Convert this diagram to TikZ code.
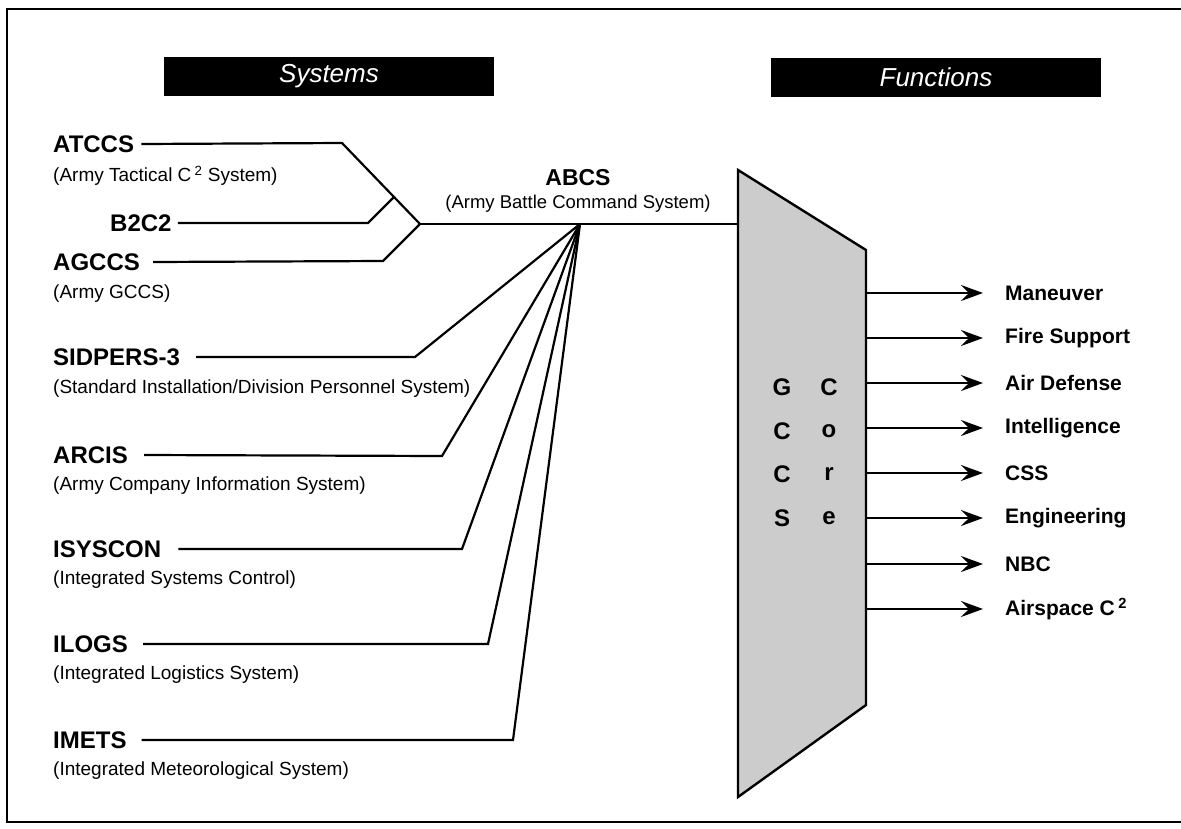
\documentclass[tikz,border=0pt]{standalone}
\usepackage{fontspec}
\setmainfont{Liberation Sans}
\usetikzlibrary{arrows.meta}
\tikzset{
  sys/.style={anchor=west,inner sep=0pt,font=\fontsize{24}{26}\selectfont\bfseries},
  sub/.style={anchor=west,inner sep=0pt,font=\fontsize{19}{21}\selectfont},
  fn/.style={anchor=west,inner sep=0pt,font=\fontsize{21}{23}\selectfont\bfseries},
  core/.style={inner sep=0pt,font=\fontsize{24}{26}\selectfont\bfseries},
  ln/.style={line width=2.2pt,line join=miter},
  hdr/.style={fill=black,text=white,font=\fontsize{26}{28}\selectfont\itshape,
    minimum width=330pt,minimum height=39pt,inner sep=0pt},
  arr/.style={line width=2pt,-{Stealth[length=22pt,width=16pt,inset=8pt]}}
}
\begin{document}
\begin{tikzpicture}[x=1pt,y=-1pt]
\useasboundingbox (0,0) rectangle (1181,828);
% frame
\draw[line width=2.4pt] (1185,9) -- (7,9) -- (7,822) -- (1185,822);
% headers
\node[hdr] (hsys) at (329,76) {Systems};
\node[hdr] (hfun) at (936,77) {Functions};
% system labels
\node[sys] (atccs) at (53,144) {ATCCS};
\node[sub] (atccsS) at (53,176) {(Army Tactical C\,\textsuperscript{2} System)};
\node[sys] (b2c2) at (110,223) {B2C2};
\node[sys] (agccs) at (53,262) {AGCCS};
\node[sub] (agccsS) at (53,294) {(Army GCCS)};
\node[sys] (sid) at (53,357) {SIDPERS-3};
\node[sub] (sidS) at (53,389) {(Standard Installation/Division Personnel System)};
\node[sys] (arcis) at (53,455) {ARCIS};
\node[sub] (arcisS) at (53,486) {(Army Company Information System)};
\node[sys] (isys) at (53,549) {ISYSCON};
\node[sub] (isysS) at (53,580) {(Integrated Systems Control)};
\node[sys] (ilogs) at (53,644) {ILOGS};
\node[sub] (ilogsS) at (53,675) {(Integrated Logistics System)};
\node[sys] (imets) at (53,740) {IMETS};
\node[sub] (imetsS) at (53,771) {(Integrated Meteorological System)};
% ABCS label
\node[inner sep=0pt,font=\fontsize{23}{24}\selectfont\bfseries] (abcs) at (578,178) {ABCS};
\node[inner sep=0pt,font=\fontsize{18.5}{20}\selectfont] (abcsS) at (578,204) {(Army Battle Command System)};
% key points
\coordinate (bAT) at (342,143);
\coordinate (J) at (420,224);
\coordinate (bB2) at (368,223);
\coordinate (mB2) at (394,197);
\coordinate (bAG) at (383,261);
\coordinate (F) at (580,224);
\coordinate (bSI) at (415,357);
\coordinate (bAR) at (442,456);
\coordinate (bIS) at (462,549);
\coordinate (bIL) at (488,644);
\coordinate (bIM) at (513,740);
% trapezoid
\coordinate (T1) at (738,170);
\coordinate (T2) at (866,250);
\coordinate (T3) at (866,705);
\coordinate (T4) at (738,797);
\coordinate (cin) at (738,224);
\filldraw[fill=black!20,line width=2.4pt,line join=miter] (T1) -- (T2) -- (T3) -- (T4) -- cycle;
% connectors
\draw[ln] ([xshift=7pt]atccs.east) -- (bAT) -- (J);
\draw[ln] ([xshift=6pt]b2c2.east) -- (bB2) -- (mB2);
\draw[ln] ([xshift=13pt]agccs.east) -- (bAG) -- (J);
\draw[ln] (J) -- (cin);
\draw[ln] ([xshift=16pt]sid.east) -- (bSI) -- (F);
\draw[ln] ([xshift=16pt]arcis.east) -- (bAR) -- (F);
\draw[ln] ([xshift=17pt]isys.east) -- (bIS) -- (F);
\draw[ln] ([xshift=15pt]ilogs.east) -- (bIL) -- (F);
\draw[ln] ([xshift=15pt]imets.east) -- (bIM) -- (F);
% GCCS Core letters
\node[core] (g1) at (782,387) {G};
\node[core] (g2) at (782,431) {C};
\node[core] (g3) at (782,474) {C};
\node[core] (g4) at (782,518) {S};
\node[core] (c1) at (829,387) {C};
\node[core] (c2) at (829,431) {o};
\node[core] (c3) at (829,474) {r};
\node[core] (c4) at (829,518) {e};
% functions
\foreach \i/\y/\t in {1/293/Maneuver,2/338/Fire Support,3/383/Air Defense,4/428/Intelligence,5/473/CSS,6/518/Engineering,7/564/NBC,8/609/{Airspace C\,\textsuperscript{2}}}{
  \coordinate (a\i) at (866,\y);
  \node[fn] (f\i) at (1005,\y) {\t};
  \draw[arr] (a\i) -- ([xshift=-22pt]f\i.west);
}
\end{tikzpicture}
\end{document}
